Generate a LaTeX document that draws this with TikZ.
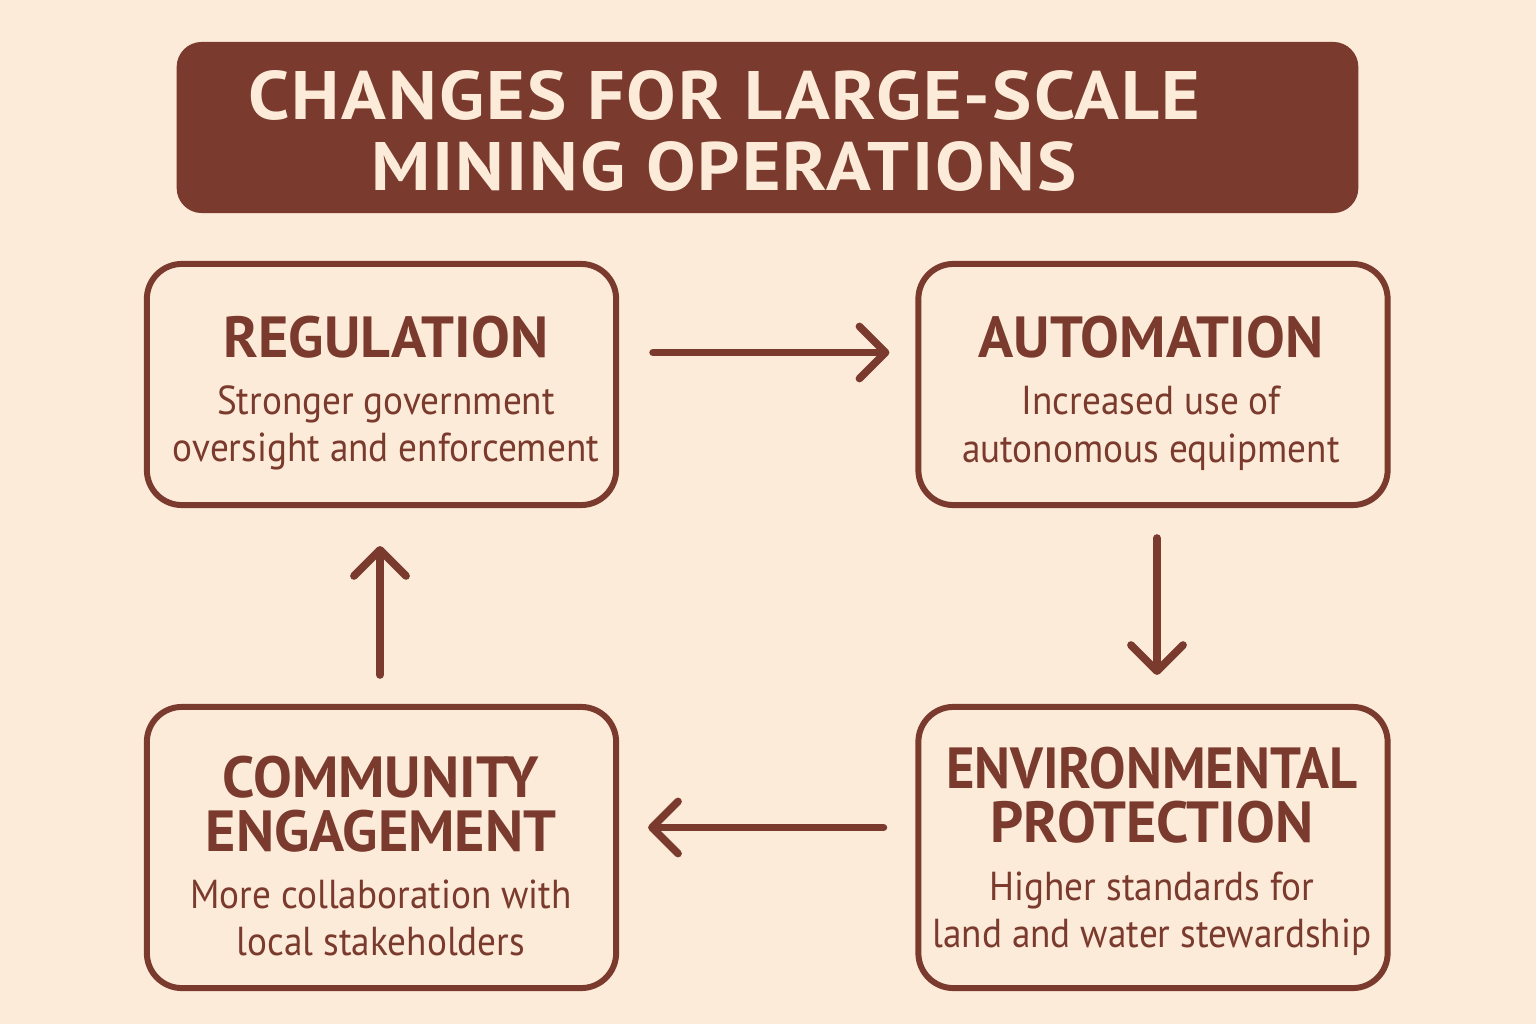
\documentclass[tikz,border=0pt]{standalone}
\usepackage{fontspec}
\setmainfont{PT Sans}
\newfontfamily\bodyfont[FakeStretch=0.92]{PT Sans}
\newfontfamily\headfont[FakeStretch=1.08, LetterSpace=3]{PT Sans}
\newfontfamily\narrowfont[FakeStretch=0.94]{PT Sans}
\usetikzlibrary{arrows.meta}

\definecolor{brn}{HTML}{7A3A2E}
\definecolor{cream}{HTML}{FCEBD9}

\newcommand{\hd}{\rmfamily\fontsize{16.5}{15}\selectfont\bfseries}
\newcommand{\hdn}{\narrowfont\fontsize{16.5}{15}\selectfont\bfseries}
\newcommand{\bd}{\bodyfont\fontsize{11.5}{13.4}\selectfont}

\tikzset{
  card/.style={draw=brn, line width=1.7pt, rounded corners=0.35cm,
    minimum width=4.69cm, minimum height=2.41cm},
  tall/.style={minimum height=2.81cm},
  txt/.style={text=brn, align=center, inner sep=0pt, font=\bd},
  flow/.style={draw=brn, line width=2.2pt, line cap=round,
    -{Straight Barb[length=2.6mm,width=5.2mm,round]}},
}

\begin{document}
\begin{tikzpicture}[x=0.01cm, y=-0.01cm]
  \fill[cream] (0,0) rectangle (1536,1024);
  \useasboundingbox (0,0) rectangle (1536,1024);

  % heading
  \node[fill=brn, rounded corners=0.25cm, minimum width=11.81cm, minimum height=1.71cm] (head) at (767.5,127.5) {};
  \node[text=cream, align=center, inner sep=0pt, font=\headfont\fontsize{19.5}{20}\selectfont\bfseries] (head-txt) at (724,131)
    {CHANGES FOR LARGE-SCALE\\MINING OPERATIONS};

  % the four cards
  \node[card] (reg) at (381.5,384.5) {};
  \node[card] (auto) at (1153,384.5) {};
  \node[card, tall] (env) at (1153,847.5) {};
  \node[card, tall] (comm) at (381.5,847.5) {};

  \node[txt] (reg-txt) at (386,393)
    {{\hd REGULATION}\\[3pt] Stronger government\\ oversight and enforcement};
  \node[txt] (auto-txt) at (1151,393)
    {{\hd AUTOMATION}\\[3pt] Increased use of\\ autonomous equipment};
  \node[txt] (env-txt) at (1152,851)
    {{\hdn ENVIRONMENTAL}\\[2pt] {\hd PROTECTION}\\[3pt] Higher standards for\\ land and water stewardship};
  \node[txt] (comm-txt) at (381,856)
    {{\hd COMMUNITY}\\[2pt] {\hd ENGAGEMENT}\\[3pt] More collaboration with\\ local stakeholders};

  % cycle arrows
  \draw[flow] ([shift={(34,-32)}]reg.east) -- ([shift={(-26,-32)}]auto.west);
  \draw[flow] ([shift={(4,30)}]auto.south) -- ([shift={(4,-29)}]env.north);
  \draw[flow] ([shift={(-32,-20)}]env.west) -- ([shift={(29,-20)}]comm.east);
  \draw[flow] ([shift={(-1.5,-29)}]comm.north) -- ([shift={(-1.5,38)}]reg.south);
\end{tikzpicture}
\end{document}
